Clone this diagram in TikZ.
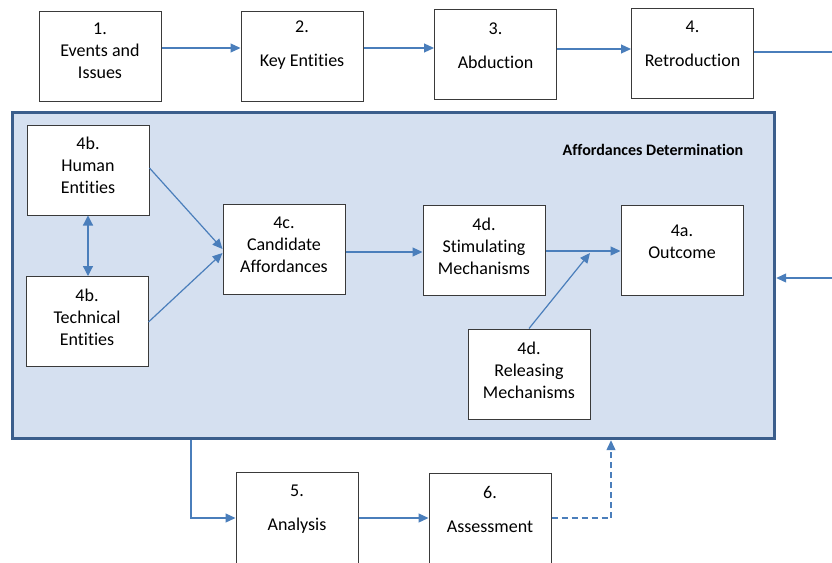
\documentclass[tikz,border=0pt]{standalone}
\usepackage{fontspec}
\setmainfont{Carlito}[Ligatures={NoCommon}]
\usetikzlibrary{arrows.meta}
\definecolor{arr}{HTML}{4A7EBB}
\definecolor{frameblue}{HTML}{3B5E8C}
\definecolor{fillblue}{HTML}{D5E0F0}
\definecolor{boxline}{HTML}{3A3A3A}
\begin{document}
\begin{tikzpicture}[x=1pt,y=-1pt,
  box/.style={draw=boxline, line width=1pt, fill=white, minimum width=122pt, minimum height=90pt, inner sep=0pt},
  tallbox/.style={box, minimum height=100pt},
  txt/.style={font=\fontsize{18}{22}\selectfont, align=center, inner sep=0pt},
  conn/.style={draw=arr, line width=1.2pt, -{Triangle[length=10pt,width=9pt]}},
  plainline/.style={draw=arr, line width=1.2pt}]
\useasboundingbox (0,0) rectangle (832,562);
% frame
\node[draw=frameblue, line width=3.4pt, fill=fillblue, minimum width=762pt, minimum height=326pt, inner sep=0pt] (frame) at (393.5,275.5) {};
\node[font=\fontsize{16}{18}\selectfont\bfseries, inner sep=0pt] (lab) at (653,150) {Affordances Determination};
% top row
\node[box] (b1) at (100,56) {};
\node[txt] (t1) at (100,51) {1.\\Events and\\Issues};
\node[box] (b2) at (302,56) {};
\node[txt] (t2) at (302,45.5) {2.\\[12pt]Key Entities};
\node[box] (b3) at (495.5,54.5) {};
\node[txt] (t3) at (495.5,45.5) {3.\\[12pt]Abduction};
\node[box] (b4) at (692.5,53) {};
\node[txt] (t4) at (692.5,43.5) {4.\\[12pt]Retroduction};
% inner boxes
\node[box] (h) at (88,170) {};
\node[txt] (th) at (88,165.5) {4b.\\Human\\Entities};
\node[box] (t) at (87,321.5) {};
\node[txt] (tt) at (87,317.5) {4b.\\Technical\\Entities};
\node[box] (c) at (284,249) {};
\node[txt] (tc) at (284,244.5) {4c.\\Candidate\\Affordances};
\node[box] (s) at (484,250) {};
\node[txt] (ts) at (484,246.5) {4d.\\Stimulating\\Mechanisms};
\node[box] (o) at (682,250) {};
\node[txt] (to) at (682,241.5) {4a.\\Outcome};
\node[box] (r) at (529,374) {};
\node[txt] (tr) at (529,370) {4d.\\Releasing\\Mechanisms};
% bottom row
\node[tallbox] (five) at (297,522) {};
\node[txt] (t5) at (297,509.5) {5.\\[12pt]Analysis};
\node[tallbox] (six) at (490,523) {};
\node[txt] (t6) at (490,509.5) {6.\\[12pt]Assessment};
% coordinates
\coordinate (outR) at (832,52);
\coordinate (inR) at (832,278);
\coordinate (rm) at (590,253);
% connectors
\draw[conn] ([yshift=8pt]b1.east) -- ([yshift=8pt]b2.west);
\draw[conn] ([yshift=8pt]b2.east) -- ([yshift=6.5pt]b3.west);
\draw[conn] ([yshift=5.5pt]b3.east) -- ([yshift=4pt]b4.west);
\draw[plainline] ([yshift=1pt]b4.east) -- (outR);
\draw[conn] (inR) -- ([yshift=-2.5pt]frame.east);
\draw[draw=arr, line width=1.2pt, {Triangle[length=10pt,width=10pt]}-{Triangle[length=10pt,width=10pt]}] (h.south) -- ([xshift=1pt]t.north);
\draw[conn] ([yshift=2pt]h.east) -- (c.west);
\draw[conn] ([yshift=-0.5pt]t.east) -- ([yshift=-4pt]c.west);
\draw[conn] ([yshift=-3pt]c.east) -- ([yshift=-2pt]s.west);
\draw[conn] ([yshift=-1pt]s.east) -- ([yshift=-1pt]o.west);
\draw[conn] (r.north) -- (rm);
\draw[conn] ([xshift=-202.5pt]frame.south) |- ([yshift=4pt]five.west);
\draw[conn] ([yshift=4pt]five.east) -- ([yshift=5pt]six.west);
\draw[conn, dashed, dash pattern=on 6pt off 4pt] ([yshift=5pt]six.east) -| ([xshift=217.5pt]frame.south);
\end{tikzpicture}
\end{document}
